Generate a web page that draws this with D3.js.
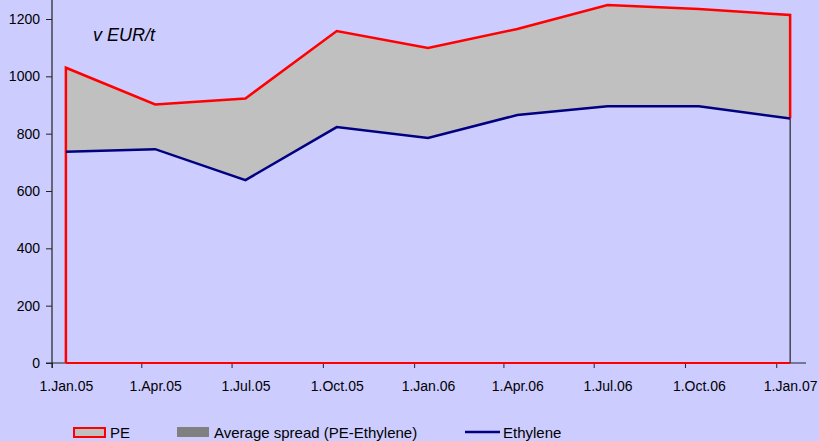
<!DOCTYPE html>
<html>
<head>
<meta charset="utf-8">
<script src="https://cdn.jsdelivr.net/npm/d3@7"></script>
<style>
  body { margin: 0; background: #ccccff; }
  svg { display: block; font-family: "Liberation Sans", Arial, sans-serif; }
</style>
</head>
<body>
<svg id="chart" width="819" height="441"></svg>
<script>
// data (quarterly, mid-month observations)
var dates = ["2005-01-15", "2005-04-15", "2005-07-15", "2005-10-15", "2006-01-15",
             "2006-04-15", "2006-07-15", "2006-10-15", "2007-01-15"];
var pe = [1030, 902, 923, 1158, 1099, 1165, 1249, 1235, 1214];
var ethylene = [737, 746, 638, 823, 785, 865, 896, 896, 853];
var tickDates = ["2005-01-01", "2005-04-01", "2005-07-01", "2005-10-01", "2006-01-01",
                 "2006-04-01", "2006-07-01", "2006-10-01", "2007-01-01"];
var tickLabels = ["1.Jan.05", "1.Apr.05", "1.Jul.05", "1.Oct.05", "1.Jan.06",
                  "1.Apr.06", "1.Jul.06", "1.Oct.06", "1.Jan.07"];
var yTicks = [0, 200, 400, 600, 800, 1000, 1200];

var parse = d3.utcParse("%Y-%m-%d");
var rows = dates.map(function(d, i){
  return {date: parse(d), pe: pe[i], eth: ethylene[i]};
});

var svg = d3.select("#chart");
var x = d3.scaleUtc()
  .domain([parse("2005-01-01"), parse("2007-01-31")])
  .range([52, 806]);
var y = d3.scaleLinear().domain([0, 1200]).range([363, 19]);

var first = rows[0], last = rows[rows.length - 1];

// spread drawn as grey between PE and ethylene
var peArea = d3.area()
  .x(function(d){ return x(d.date); })
  .y0(function(d){ return y(d.eth); })
  .y1(function(d){ return y(d.pe); });
svg.append("path")
  .datum(rows)
  .attr("d", peArea)
  .attr("fill", "#c0c0c0");

// ethylene area outline (thin black)
svg.append("path")
  .attr("d", "M" + x(first.date) + "," + y(0) + "V" + y(first.eth) +
             "M" + x(last.date) + "," + y(last.eth) + "V" + y(0))
  .attr("fill", "none")
  .attr("stroke", "#000")
  .attr("stroke-width", 1);

// PE outline in red
var peLine = d3.line()
  .x(function(d){ return x(d.date); })
  .y(function(d){ return y(d.pe); });
var pts = [{date: first.date, pe: 0}].concat(rows.map(function(d){ return {date: d.date, pe: d.pe}; }))
  .concat([{date: last.date, pe: last.eth}]);

// axes
var yAxis = svg.append("g")
  .attr("transform", "translate(52,0)")
  .call(d3.axisLeft(y).tickValues(yTicks).tickSize(6).tickPadding(6).tickFormat(d3.format("d")));
yAxis.select(".domain").attr("d", "M0,0V368");
var xAxis = svg.append("g")
  .attr("transform", "translate(0,363)")
  .call(d3.axisBottom(x).tickValues(tickDates.map(parse)).tickSize(5).tickPadding(13)
    .tickFormat(function(d, i){ return tickLabels[i]; }));
xAxis.select(".domain").attr("d", "M46,0H806");
// labels sit under the data points, not the tick marks
xAxis.selectAll(".tick text")
  .attr("x", function(d, i){ return x(parse(dates[i])) - x(d); });
svg.selectAll(".domain").attr("stroke", "#222").attr("stroke-width", 1.2);
svg.selectAll(".tick line").attr("stroke", "#222");
svg.selectAll(".tick text").attr("font-size", 14).attr("fill", "#000")
  .attr("font-family", "Liberation Sans, Arial, sans-serif");

svg.append("path")
  .attr("d", peLine(pts))
  .attr("fill", "none")
  .attr("stroke", "#ff0000")
  .attr("stroke-width", 2.5);
svg.append("line")
  .attr("x1", x(first.date)).attr("x2", x(last.date))
  .attr("y1", y(0)).attr("y2", y(0))
  .attr("stroke", "#ff0000").attr("stroke-width", 2);

// ethylene line
var ethLine = d3.line()
  .x(function(d){ return x(d.date); })
  .y(function(d){ return y(d.eth); });
svg.append("path")
  .datum(rows)
  .attr("d", ethLine)
  .attr("fill", "none")
  .attr("stroke", "#000080")
  .attr("stroke-width", 2.5);

// unit label
svg.append("text")
  .attr("x", 93).attr("y", 41)
  .attr("font-size", 18).attr("font-style", "italic")
  .text("v EUR/t");

// legend
var lg = svg.append("g").attr("font-size", 15);
lg.append("rect").attr("x", 74).attr("y", 428).attr("width", 31).attr("height", 9)
  .attr("fill", "#c0c0c0").attr("stroke", "#ff0000").attr("stroke-width", 2);
lg.append("text").attr("x", 110).attr("y", 438).text("PE");
lg.append("rect").attr("x", 177).attr("y", 427).attr("width", 32).attr("height", 10)
  .attr("fill", "#808080");
lg.append("text").attr("x", 214).attr("y", 438).text("Average spread (PE-Ethylene)");
lg.append("line").attr("x1", 465).attr("x2", 500).attr("y1", 432).attr("y2", 432)
  .attr("stroke", "#000080").attr("stroke-width", 2.5);
lg.append("text").attr("x", 503).attr("y", 438).text("Ethylene");
</script>
</body>
</html>
